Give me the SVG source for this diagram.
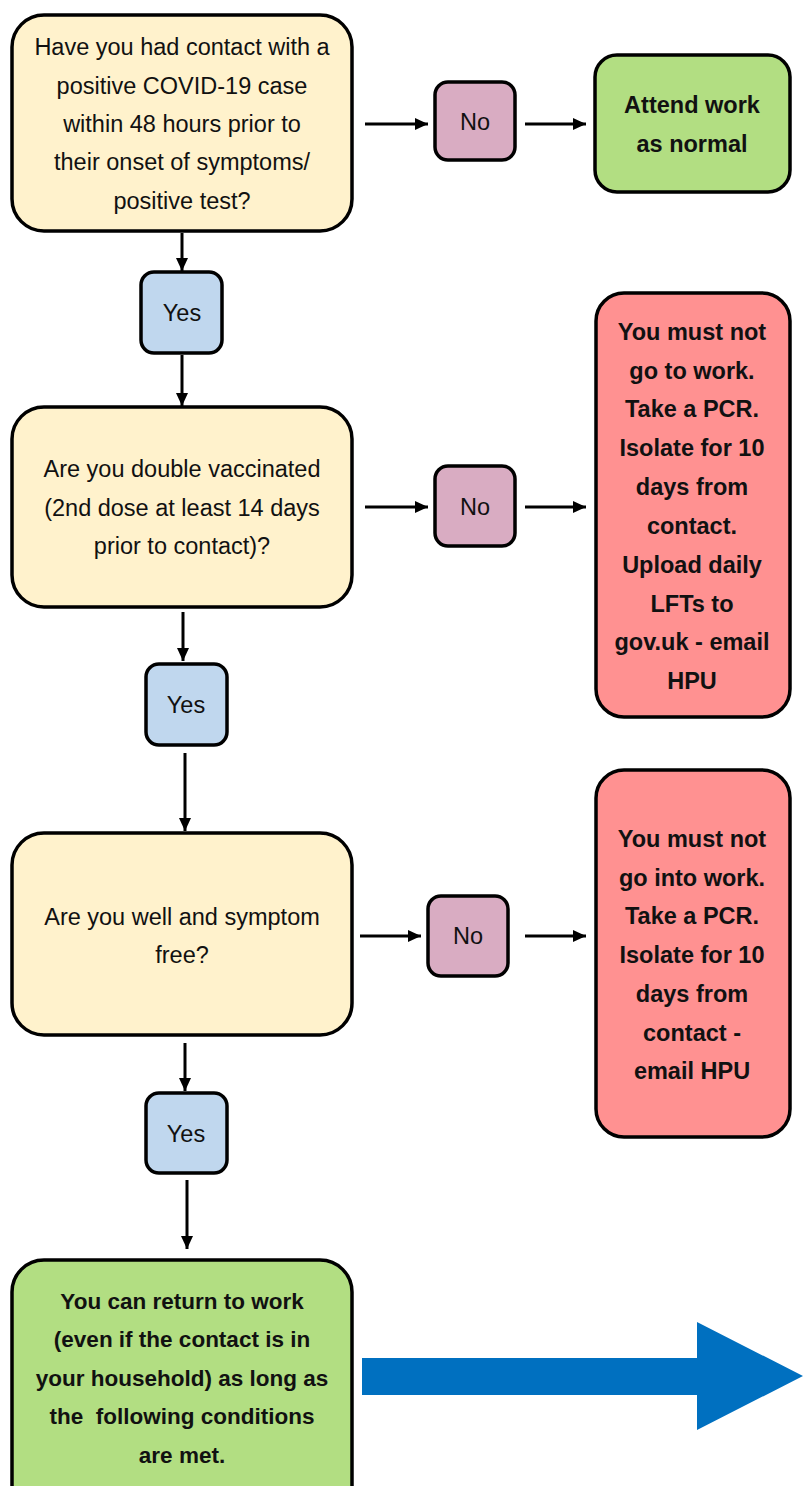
<svg xmlns="http://www.w3.org/2000/svg" width="803" height="1486" viewBox="0 0 803 1486">
<style>
.box{stroke:#000;stroke-width:3.5}
.q{fill:#FFF2CC}
.no{fill:#D9ACC2}
.yes{fill:#C0D7EE}
.ok{fill:#B2DE82}
.bad{fill:#FF9191}
text{font-family:"Liberation Sans",Arial,sans-serif;font-size:23.5px;fill:#111;text-anchor:middle}
.b{font-weight:bold}
.s{font-size:22.5px}
.c{stroke:#000;stroke-width:3;fill:none}
</style>
<defs>
<marker id="ah" markerUnits="userSpaceOnUse" markerWidth="14" markerHeight="14" refX="13" refY="7" orient="auto">
<path d="M0,1 L13,7 L0,13 Z" fill="#000"/>
</marker>
</defs>
<g id="connectors">
<path class="c" d="M182,233 V271" marker-end="url(#ah)"/>
<path class="c" d="M182,355 V406" marker-end="url(#ah)"/>
<path class="c" d="M183,612 V661" marker-end="url(#ah)"/>
<path class="c" d="M185,753 V831" marker-end="url(#ah)"/>
<path class="c" d="M185,1043 V1091" marker-end="url(#ah)"/>
<path class="c" d="M187,1180 V1249" marker-end="url(#ah)"/>
<path class="c" d="M365,124 H428" marker-end="url(#ah)"/>
<path class="c" d="M525,124 H586" marker-end="url(#ah)"/>
<path class="c" d="M365,507 H428" marker-end="url(#ah)"/>
<path class="c" d="M525,507 H586" marker-end="url(#ah)"/>
<path class="c" d="M360,936 H421" marker-end="url(#ah)"/>
<path class="c" d="M525,936 H586" marker-end="url(#ah)"/>
<path id="bigarrow" d="M362,1358 H697 V1322 L803,1376 L697,1430 V1395 H362 Z" fill="#0070C0"/>
</g>
<g id="q1">
<rect class="box q" x="12" y="15" width="340" height="216" rx="32"/>
<text x="182" y="55">Have you had contact with a</text>
<text x="182" y="94">positive COVID-19 case</text>
<text x="182" y="132">within 48 hours prior to</text>
<text x="182" y="170">their onset of symptoms/</text>
<text x="182" y="209">positive test?</text>
</g>
<g id="no1">
<rect class="box no" x="435" y="82" width="80" height="78" rx="13"/>
<text x="475" y="130">No</text>
</g>
<g id="attend">
<rect class="box ok" x="595" y="55" width="195" height="137" rx="22"/>
<text class="b" x="692" y="113">Attend work</text>
<text class="b" x="692" y="152">as normal</text>
</g>
<g id="yes1">
<rect class="box yes" x="141" y="272" width="81" height="81" rx="13"/>
<text x="182" y="321">Yes</text>
</g>
<g id="q2">
<rect class="box q" x="12" y="407" width="340" height="200" rx="32"/>
<text x="182" y="477">Are you double vaccinated</text>
<text x="182" y="516">(2nd dose at least 14 days</text>
<text x="182" y="554">prior to contact)?</text>
</g>
<g id="no2">
<rect class="box no" x="435" y="466" width="80" height="80" rx="13"/>
<text x="475" y="515">No</text>
</g>
<g id="stop1">
<rect class="box bad" x="596" y="293" width="194" height="424" rx="28"/>
<text class="b" x="692" y="340">You must not</text>
<text class="b" x="692" y="379">go to work.</text>
<text class="b" x="692" y="417">Take a PCR.</text>
<text class="b" x="692" y="456">Isolate for 10</text>
<text class="b" x="692" y="495">days from</text>
<text class="b" x="692" y="534">contact.</text>
<text class="b" x="692" y="573">Upload daily</text>
<text class="b" x="692" y="612">LFTs to</text>
<text class="b" x="692" y="650">gov.uk - email</text>
<text class="b" x="692" y="689">HPU</text>
</g>
<g id="yes2">
<rect class="box yes" x="146" y="664" width="81" height="81" rx="13"/>
<text x="186" y="713">Yes</text>
</g>
<g id="q3">
<rect class="box q" x="12" y="833" width="340" height="202" rx="32"/>
<text x="182" y="925">Are you well and symptom</text>
<text x="182" y="963">free?</text>
</g>
<g id="no3">
<rect class="box no" x="428" y="896" width="80" height="80" rx="13"/>
<text x="468" y="944">No</text>
</g>
<g id="stop2">
<rect class="box bad" x="596" y="770" width="194" height="367" rx="28"/>
<text class="b" x="692" y="847">You must not</text>
<text class="b" x="692" y="886">go into work.</text>
<text class="b" x="692" y="924">Take a PCR.</text>
<text class="b" x="692" y="963">Isolate for 10</text>
<text class="b" x="692" y="1002">days from</text>
<text class="b" x="692" y="1041">contact -</text>
<text class="b" x="692" y="1079">email HPU</text>
</g>
<g id="yes3">
<rect class="box yes" x="146" y="1093" width="81" height="80" rx="13"/>
<text x="186" y="1142">Yes</text>
</g>
<g id="return">
<rect class="box ok" x="12" y="1260" width="340" height="260" rx="32"/>
<text class="b s" x="182" y="1309">You can return to work</text>
<text class="b s" x="182" y="1347">(even if the contact is in</text>
<text class="b s" x="182" y="1386">your household) as long as</text>
<text class="b s" x="182" y="1424" xml:space="preserve">the  following conditions</text>
<text class="b s" x="182" y="1463">are met.</text>
</g>
</svg>
